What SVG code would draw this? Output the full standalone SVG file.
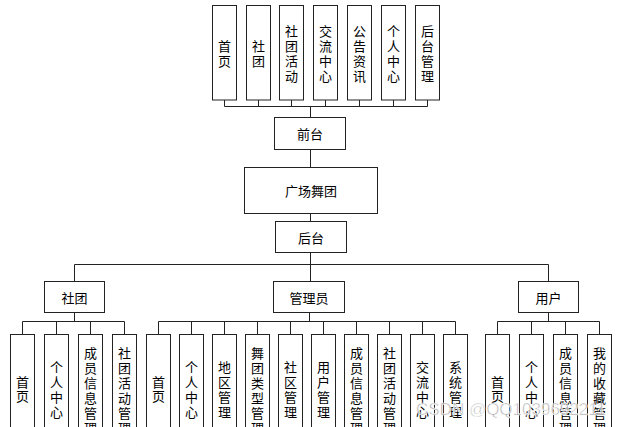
<svg xmlns="http://www.w3.org/2000/svg" width="629" height="427" viewBox="0 0 629 427">
<style>
.b{fill:#fff;stroke:#222;stroke-width:1}
.c{fill:none;stroke:#222;stroke-width:1}
.t{font-family:"Noto Sans CJK SC","Liberation Sans",sans-serif;font-size:13px;fill:#000;text-anchor:middle;dominant-baseline:central}
.w{font-family:"Liberation Sans",sans-serif;font-size:17px;fill:#999;fill-opacity:0.85;stroke:#fff;stroke-width:0.6}
</style>
<rect width="629" height="427" fill="#fff"/>
<g id="connectors">
<path class="c" d="M224.5 100V106.5M258.5 100V106.5M291.5 100V106.5M325.5 100V106.5M359.5 100V106.5M393.5 100V106.5M427.5 100V106.5M224.5 106.5H427.5M310.5 106.5V117.5"/>
<path class="c" d="M310.5 149.5V167.5M310.5 213.5V221.5M310.5 252.5V264.5M74.5 264.5H548.5M74.5 264.5V281.5M548.5 264.5V281.5M310.5 264.5V281.5"/>
<path class="c" d="M74.5 312.5V321.5M22.5 321.5H124.5M22.5 321.5V334.5M56.5 321.5V334.5M90.5 321.5V334.5M124.5 321.5V334.5"/>
<path class="c" d="M309.5 312.5V321.5M158.5 321.5H455.5M158.5 321.5V334.5M191.5 321.5V334.5M224.5 321.5V334.5M257.5 321.5V334.5M290.5 321.5V334.5M323.5 321.5V334.5M356.5 321.5V334.5M389.5 321.5V334.5M422.5 321.5V334.5M455.5 321.5V334.5"/>
<path class="c" d="M548.5 312.5V321.5M497.5 321.5H599.5M497.5 321.5V334.5M531.5 321.5V334.5M565.5 321.5V334.5M599.5 321.5V334.5"/>
</g>
<g id="top1"><rect class="b" x="212.5" y="5.5" width="24" height="94.5"/><text class="t" x="224.5" y="45">首</text><text class="t" x="224.5" y="60">页</text></g>
<g id="top2"><rect class="b" x="246.5" y="5.5" width="24" height="94.5"/><text class="t" x="258.5" y="45">社</text><text class="t" x="258.5" y="60">团</text></g>
<g id="top3"><rect class="b" x="279.5" y="5.5" width="24" height="94.5"/><text class="t" x="291.5" y="30">社</text><text class="t" x="291.5" y="45">团</text><text class="t" x="291.5" y="60">活</text><text class="t" x="291.5" y="75">动</text></g>
<g id="top4"><rect class="b" x="313.5" y="5.5" width="24" height="94.5"/><text class="t" x="325.5" y="30">交</text><text class="t" x="325.5" y="45">流</text><text class="t" x="325.5" y="60">中</text><text class="t" x="325.5" y="75">心</text></g>
<g id="top5"><rect class="b" x="347.5" y="5.5" width="24" height="94.5"/><text class="t" x="359.5" y="30">公</text><text class="t" x="359.5" y="45">告</text><text class="t" x="359.5" y="60">资</text><text class="t" x="359.5" y="75">讯</text></g>
<g id="top6"><rect class="b" x="381.5" y="5.5" width="24" height="94.5"/><text class="t" x="393.5" y="30">个</text><text class="t" x="393.5" y="45">人</text><text class="t" x="393.5" y="60">中</text><text class="t" x="393.5" y="75">心</text></g>
<g id="top7"><rect class="b" x="415.5" y="5.5" width="24" height="94.5"/><text class="t" x="427.5" y="30">后</text><text class="t" x="427.5" y="45">台</text><text class="t" x="427.5" y="60">管</text><text class="t" x="427.5" y="75">理</text></g>
<g id="qiantai"><rect class="b" x="274.5" y="117.5" width="71" height="32"/><text class="t" x="310" y="133.5">前台</text></g>
<g id="root"><rect class="b" x="244.5" y="167.5" width="133" height="46"/><text class="t" x="311" y="190.5">广场舞团</text></g>
<g id="houtai"><rect class="b" x="275.5" y="221.5" width="71" height="31"/><text class="t" x="311" y="237">后台</text></g>
<g id="shetuan"><rect class="b" x="44.5" y="281.5" width="60" height="31"/><text class="t" x="74.5" y="297">社团</text></g>
<g id="admin"><rect class="b" x="273.5" y="281.5" width="71" height="31"/><text class="t" x="309" y="297">管理员</text></g>
<g id="user"><rect class="b" x="518.5" y="281.5" width="60" height="31"/><text class="t" x="548.5" y="297">用户</text></g>
<g id="s1"><rect class="b" x="10.5" y="334.5" width="24" height="110"/><text class="t" x="22.5" y="381">首</text><text class="t" x="22.5" y="395">页</text></g>
<g id="s2"><rect class="b" x="44.5" y="334.5" width="24" height="110"/><text class="t" x="56.5" y="366">个</text><text class="t" x="56.5" y="381">人</text><text class="t" x="56.5" y="396">中</text><text class="t" x="56.5" y="411">心</text></g>
<g id="s3"><rect class="b" x="78.5" y="334.5" width="24" height="110"/><text class="t" x="90.5" y="352">成</text><text class="t" x="90.5" y="367">员</text><text class="t" x="90.5" y="382">信</text><text class="t" x="90.5" y="397">息</text><text class="t" x="90.5" y="412">管</text><text class="t" x="90.5" y="427">理</text></g>
<g id="s4"><rect class="b" x="112.5" y="334.5" width="24" height="110"/><text class="t" x="124.5" y="352">社</text><text class="t" x="124.5" y="367">团</text><text class="t" x="124.5" y="382">活</text><text class="t" x="124.5" y="397">动</text><text class="t" x="124.5" y="412">管</text><text class="t" x="124.5" y="427">理</text></g>
<g id="a1"><rect class="b" x="146.5" y="334.5" width="24" height="110"/><text class="t" x="158.5" y="381">首</text><text class="t" x="158.5" y="395">页</text></g>
<g id="a2"><rect class="b" x="179.5" y="334.5" width="24" height="110"/><text class="t" x="191.5" y="366">个</text><text class="t" x="191.5" y="381">人</text><text class="t" x="191.5" y="396">中</text><text class="t" x="191.5" y="411">心</text></g>
<g id="a3"><rect class="b" x="212.5" y="334.5" width="24" height="110"/><text class="t" x="224.5" y="366">地</text><text class="t" x="224.5" y="381">区</text><text class="t" x="224.5" y="396">管</text><text class="t" x="224.5" y="411">理</text></g>
<g id="a4"><rect class="b" x="245.5" y="334.5" width="24" height="110"/><text class="t" x="257.5" y="352">舞</text><text class="t" x="257.5" y="367">团</text><text class="t" x="257.5" y="382">类</text><text class="t" x="257.5" y="397">型</text><text class="t" x="257.5" y="412">管</text><text class="t" x="257.5" y="427">理</text></g>
<g id="a5"><rect class="b" x="278.5" y="334.5" width="24" height="110"/><text class="t" x="290.5" y="366">社</text><text class="t" x="290.5" y="381">区</text><text class="t" x="290.5" y="396">管</text><text class="t" x="290.5" y="411">理</text></g>
<g id="a6"><rect class="b" x="311.5" y="334.5" width="24" height="110"/><text class="t" x="323.5" y="366">用</text><text class="t" x="323.5" y="381">户</text><text class="t" x="323.5" y="396">管</text><text class="t" x="323.5" y="411">理</text></g>
<g id="a7"><rect class="b" x="344.5" y="334.5" width="24" height="110"/><text class="t" x="356.5" y="352">成</text><text class="t" x="356.5" y="367">员</text><text class="t" x="356.5" y="382">信</text><text class="t" x="356.5" y="397">息</text><text class="t" x="356.5" y="412">管</text><text class="t" x="356.5" y="427">理</text></g>
<g id="a8"><rect class="b" x="377.5" y="334.5" width="24" height="110"/><text class="t" x="389.5" y="352">社</text><text class="t" x="389.5" y="367">团</text><text class="t" x="389.5" y="382">活</text><text class="t" x="389.5" y="397">动</text><text class="t" x="389.5" y="412">管</text><text class="t" x="389.5" y="427">理</text></g>
<g id="a9"><rect class="b" x="410.5" y="334.5" width="24" height="110"/><text class="t" x="422.5" y="366">交</text><text class="t" x="422.5" y="381">流</text><text class="t" x="422.5" y="396">中</text><text class="t" x="422.5" y="411">心</text></g>
<g id="a10"><rect class="b" x="443.5" y="334.5" width="24" height="110"/><text class="t" x="455.5" y="366">系</text><text class="t" x="455.5" y="381">统</text><text class="t" x="455.5" y="396">管</text><text class="t" x="455.5" y="411">理</text></g>
<g id="u1"><rect class="b" x="485.5" y="334.5" width="24" height="110"/><text class="t" x="497.5" y="381">首</text><text class="t" x="497.5" y="395">页</text></g>
<g id="u2"><rect class="b" x="519.5" y="334.5" width="24" height="110"/><text class="t" x="531.5" y="366">个</text><text class="t" x="531.5" y="381">人</text><text class="t" x="531.5" y="396">中</text><text class="t" x="531.5" y="411">心</text></g>
<g id="u3"><rect class="b" x="553.5" y="334.5" width="24" height="110"/><text class="t" x="565.5" y="352">成</text><text class="t" x="565.5" y="367">员</text><text class="t" x="565.5" y="382">信</text><text class="t" x="565.5" y="397">息</text><text class="t" x="565.5" y="412">管</text><text class="t" x="565.5" y="427">理</text></g>
<g id="u4"><rect class="b" x="587.5" y="334.5" width="24" height="110"/><text class="t" x="599.5" y="352">我</text><text class="t" x="599.5" y="367">的</text><text class="t" x="599.5" y="382">收</text><text class="t" x="599.5" y="397">藏</text><text class="t" x="599.5" y="412">管</text><text class="t" x="599.5" y="427">理</text></g>
<text class="w" x="416" y="415">CSDN @QQ1039692211</text>
</svg>
